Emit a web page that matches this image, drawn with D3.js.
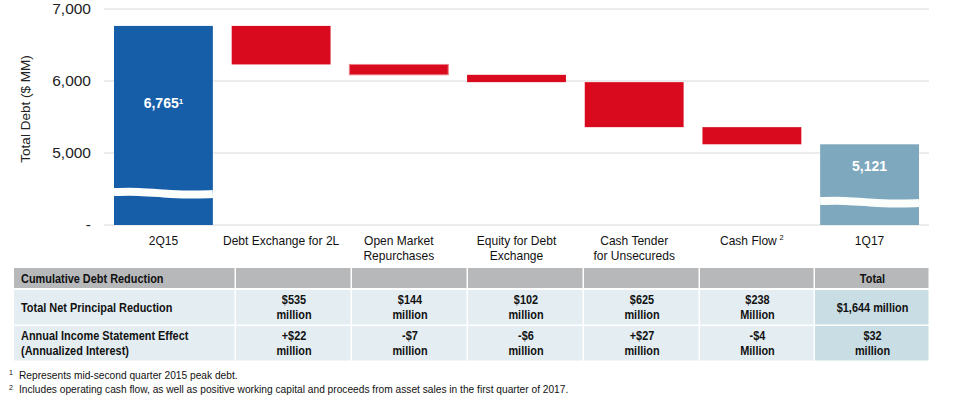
<!DOCTYPE html>
<html>
<head>
<meta charset="utf-8">
<script src="https://cdn.jsdelivr.net/npm/d3@7"></script>
<style>
  body { margin: 0; background: #fff; }
  svg { display: block; }
  text { font-family: "Liberation Sans", Arial, sans-serif; }
  .tbl { font-weight: bold; fill: #111; }
</style>
</head>
<body>
<svg id="chart" width="974" height="408"></svg>
<script>
// chart values
var categories = ["2Q15", "Debt Exchange for 2L", "Open Market|Repurchases", "Equity for Debt|Exchange", "Cash Tender|for Unsecureds", "Cash Flow", "1Q17"];
var startTotal = 6765;
var reductions = [535, 144, 102, 625, 238];
var endTotal = 5121;
var yTicks = [4000, 5000, 6000, 7000];

// table values
var rowLabels = ["Total Net Principal Reduction", "Annual Income Statement Effect|(Annualized Interest)"];
var principal = ["$535|million", "$144|million", "$102|million", "$625|million", "$238|Million", "$1,644 million"];
var interest = ["+$22|million", "-$7|million", "-$6|million", "+$27|million", "-$4|Million", "$32|million"];
var footnotes = ["Represents mid-second quarter 2015 peak debt.",
  "Includes operating cash flow, as well as positive working capital and proceeds from asset sales in the first quarter of 2017."];

var svg = d3.select("#chart");

var x = d3.scaleBand().domain(categories).range([104, 929]).paddingInner(0.16).paddingOuter(0.085);
var y = d3.scaleLinear().domain([4000, 7000]).range([225, 9]);

// gridlines
svg.append("g").selectAll("line").data(yTicks).enter().append("line")
  .attr("x1", 104).attr("x2", 929)
  .attr("y1", function (d) { return y(d); }).attr("y2", function (d) { return y(d); })
  .attr("stroke", "#d9d9d9").attr("stroke-width", 1.2);

// y tick labels
svg.append("g").selectAll("text").data(yTicks).enter().append("text")
  .attr("x", 91).attr("y", function (d) { return y(d) + 5; })
  .attr("text-anchor", "end").attr("font-size", 15.5).attr("fill", "#222")
  .text(function (d) { return d === 4000 ? "-" : d3.format(",")(d); });

svg.append("text")
  .attr("transform", "translate(30,109) rotate(-90)")
  .attr("text-anchor", "middle").attr("font-size", 13.5).attr("fill", "#222")
  .text("Total Debt ($ MM)");

// waterfall steps
var steps = [];
var running = startTotal;
reductions.forEach(function (r, i) {
  steps.push({ cat: categories[i + 1], top: running, bottom: running - r });
  running -= r;
});

svg.append("rect")
  .attr("x", x(categories[0])).attr("width", x.bandwidth())
  .attr("y", y(startTotal)).attr("height", y(4000) - y(startTotal))
  .attr("fill", "#175ea8");

svg.append("rect")
  .attr("x", x(categories[6])).attr("width", x.bandwidth())
  .attr("y", y(endTotal)).attr("height", y(4000) - y(endTotal))
  .attr("fill", "#7ea8be");

svg.append("g").selectAll("rect").data(steps).enter().append("rect")
  .attr("x", function (d) { return x(d.cat); }).attr("width", x.bandwidth())
  .attr("y", function (d) { return y(d.top); })
  .attr("height", function (d) { return y(d.bottom) - y(d.top); })
  .attr("fill", "#da0a1e")
  .attr("stroke", function (d, i) { return i === 1 ? "#ec7d85" : "none"; })
  .attr("stroke-width", 1);

// axis break waves
function wave(cat, yMid) {
  var x0 = x(cat), w = x.bandwidth();
  var pts = [0, 0.25, 0.5, 0.75, 1].map(function (t, i) {
    return [x0 + t * w, yMid + [-1, -1.5, 0.5, 2, 1][i]];
  });
  var line = d3.line().curve(d3.curveBasis);
  svg.append("path").attr("d", line(pts))
    .attr("fill", "none").attr("stroke", "#fbfefb").attr("stroke-width", 8);
}
wave(categories[0], 193);
wave(categories[6], 202);

// bar labels
var lab1 = svg.append("text")
  .attr("x", x(categories[0]) + x.bandwidth() / 2).attr("y", y(startTotal) + 82)
  .attr("text-anchor", "middle").attr("font-size", 14).attr("font-weight", "bold").attr("fill", "#fff")
  .attr("font-family", "'Open Sans', sans-serif");
lab1.append("tspan").text(d3.format(",")(startTotal));
lab1.append("tspan").attr("font-size", 8).attr("dy", -4).text("1");

svg.append("text")
  .attr("x", x(categories[6]) + x.bandwidth() / 2).attr("y", y(endTotal) + 27)
  .attr("text-anchor", "middle").attr("font-size", 14).attr("font-weight", "bold").attr("fill", "#fff")
  .attr("font-family", "'Open Sans', sans-serif")
  .text(d3.format(",")(endTotal));

// category labels
categories.forEach(function (c, i) {
  var cx = x(c) + x.bandwidth() / 2;
  var t = svg.append("text")
    .attr("transform", "translate(" + cx + ",245) scale(0.94,1)")
    .attr("text-anchor", "middle").attr("font-size", 12.8).attr("fill", "#111");
  c.split("|").forEach(function (part, j) {
    t.append("tspan").attr("x", 0).attr("dy", j === 0 ? 0 : 15).text(part);
  });
  if (i === 5) {
    t.append("tspan").attr("font-size", 8).attr("dy", -5).attr("dx", 3).text("2");
  }
});

// table
var colX = [14, 236, 352, 468, 584, 700, 815, 930];
var rowY = [268, 290, 326, 362];

function cellText(g, str, cx, cy, anchor) {
  var parts = str.split("|");
  var t = g.append("text").attr("class", "tbl").attr("font-size", 13)
    .attr("text-anchor", anchor)
    .attr("transform", "translate(" + cx + "," + (cy - (parts.length - 1) * 7.5 + 4.5) + ") scale(0.84,1)");
  parts.forEach(function (p, j) {
    t.append("tspan").attr("x", 0).attr("dy", j === 0 ? 0 : 15).text(p);
  });
}

var tg = svg.append("g");
for (var c = 0; c < 7; c++) {
  tg.append("rect").attr("x", colX[c]).attr("y", rowY[0])
    .attr("width", colX[c + 1] - colX[c] - 1.5).attr("height", rowY[1] - rowY[0] - 2)
    .attr("fill", "#b6b8ba");
  for (var r = 1; r < 3; r++) {
    tg.append("rect").attr("x", colX[c]).attr("y", rowY[r])
      .attr("width", colX[c + 1] - colX[c] - 1.5).attr("height", rowY[r + 1] - rowY[r] - 1.5)
      .attr("fill", c === 6 ? "#c9dde4" : "#e3edf2");
  }
}
cellText(tg, "Cumulative Debt Reduction", 21, 278, "start");
cellText(tg, "Total", (colX[6] + colX[7]) / 2, 278, "middle");
rowLabels.forEach(function (l, r) {
  cellText(tg, l, 21, (rowY[r + 1] + rowY[r + 2]) / 2 - 1, "start");
});
[principal, interest].forEach(function (row, r) {
  row.forEach(function (v, i) {
    cellText(tg, v, (colX[i + 1] + colX[i + 2]) / 2, (rowY[r + 1] + rowY[r + 2]) / 2 - 1, "middle");
  });
});

// footnotes
footnotes.forEach(function (f, i) {
  svg.append("text").attr("x", 9).attr("y", 375 + i * 14.5).attr("font-size", 7).attr("fill", "#111").text(String(i + 1));
  svg.append("text").attr("x", 19).attr("y", 378.5 + i * 14.5).attr("font-size", 10.2).attr("fill", "#111").text(f);
});
</script>
</body>
</html>
